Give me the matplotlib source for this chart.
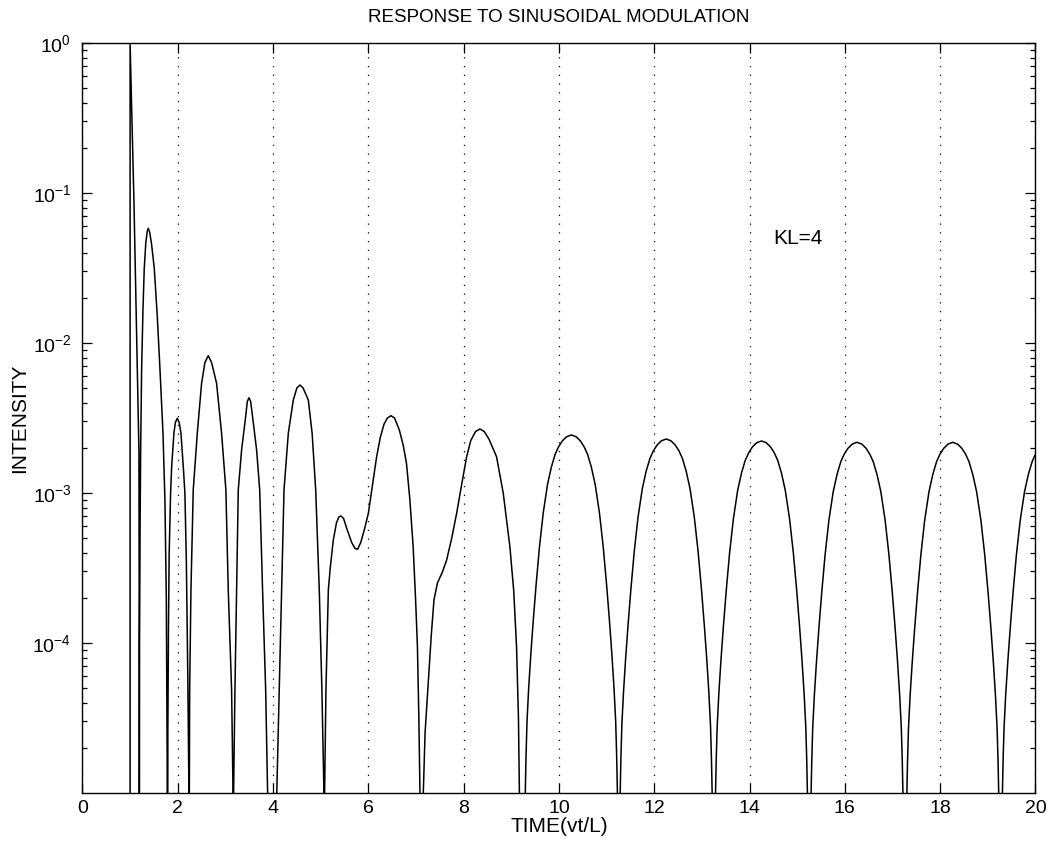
import numpy as np
import matplotlib
matplotlib.use("Agg")
import matplotlib.pyplot as plt
from matplotlib.ticker import LogLocator, FixedLocator, NullFormatter

plt.rcParams['font.family'] = ['Liberation Sans', 'DejaVu Sans']
plt.rcParams['mathtext.fontset'] = 'custom'
plt.rcParams['mathtext.rm'] = 'Liberation Sans'
plt.rcParams['mathtext.it'] = 'Liberation Sans:italic'
plt.rcParams['mathtext.bf'] = 'Liberation Sans:bold'

TITLE = "RESPONSE TO SINUSOIDAL MODULATION"
XLABEL = "TIME(vt/L)"
YLABEL = "INTENSITY"
NOTE = "KL=4"

# Curve: time and log10(intensity), lobe by lobe.
# -8 marks the zeros of the response (below the plotted range).
lobe0_t = [1.000, 1.000, 1.040, 1.081, 1.115, 1.150, 1.175, 1.186, 1.190, 1.192]
lobe0_l = [-8, -0.009, -0.53, -1.06, -1.60, -2.17, -2.55, -2.73, -3.6, -8]

lobe1_t = [1.192, 1.198, 1.21, 1.221, 1.242, 1.27, 1.297, 1.33, 1.36, 1.381, 1.41,
           1.45, 1.507, 1.57, 1.626, 1.69, 1.731, 1.76, 1.778, 1.785]
lobe1_l = [-8, -4.0, -3.2, -2.725, -2.169, -1.78, -1.502, -1.33, -1.255, -1.236, -1.26,
           -1.34, -1.502, -1.82, -2.17, -2.6, -3.05, -3.7, -4.8, -8]

lobe2_t = [1.785, 1.792, 1.805, 1.82, 1.85, 1.872, 1.92, 1.95, 1.99, 2.03, 2.067,
           2.116, 2.15, 2.18, 2.21, 2.235, 2.24]
lobe2_l = [-8, -4.6, -3.9, -3.4, -3.0, -2.825, -2.60, -2.53, -2.502, -2.53, -2.60,
           -2.825, -3.0, -3.45, -4.2, -5.0, -8]

lobe3_t = [2.24, 2.243, 2.25, 2.277, 2.325, 2.41, 2.50, 2.57, 2.64, 2.71, 2.815,
           2.92, 3.01, 3.06, 3.13, 3.16, 3.168]
lobe3_l = [-8, -5.0, -4.313, -3.647, -2.98, -2.602, -2.269, -2.13, -2.085, -2.13, -2.269,
           -2.602, -2.98, -3.647, -4.313, -5.0, -8]

lobe4_t = [3.168, 3.172, 3.20, 3.235, 3.27, 3.34, 3.425, 3.46, 3.494, 3.53, 3.57,
           3.655, 3.72, 3.78, 3.845, 3.886, 3.89, 4.07]
lobe4_l = [-8, -5.0, -4.313, -3.647, -2.98, -2.713, -2.491, -2.39, -2.365, -2.39, -2.491,
           -2.713, -2.98, -3.647, -4.313, -5.0, -8, -8]

lobe5_t = [4.07, 4.078, 4.13, 4.18, 4.23, 4.32, 4.425, 4.50, 4.565, 4.63, 4.74,
           4.82, 4.895, 4.97, 5.025, 5.068, 5.075]
lobe5_l = [-8, -5.0, -4.313, -3.647, -2.98, -2.602, -2.38, -2.30, -2.28, -2.30, -2.38,
           -2.602, -2.98, -3.647, -4.313, -5.0, -8]

lobe6_t = [5.075, 5.082, 5.11, 5.16, 5.20, 5.265, 5.33, 5.38, 5.425, 5.48, 5.55, 5.65,
           5.72, 5.775, 5.84, 5.92, 6.0, 6.08, 6.174, 6.25, 6.33, 6.40, 6.474, 6.55,
           6.65, 6.73, 6.80, 6.87, 6.94, 6.99, 7.03, 7.06, 7.083, 7.12]
lobe6_l = [-8, -5.0, -4.313, -3.647, -3.50, -3.313, -3.20, -3.16, -3.153, -3.17, -3.24, -3.33,
           -3.37, -3.375, -3.33, -3.24, -3.135, -2.96, -2.758, -2.63, -2.54, -2.50, -2.485, -2.50,
           -2.58, -2.68, -2.802, -3.04, -3.358, -3.70, -4.025, -4.5, -5.0, -8]

lobe7_t = [7.12, 7.153, 7.19, 7.26, 7.32, 7.377, 7.45, 7.55, 7.643, 7.75, 7.853, 7.96,
           8.063, 8.15, 8.25, 8.342, 8.43, 8.53, 8.69, 8.83, 8.97, 9.05, 9.11, 9.15,
           9.17, 9.235]
lobe7_l = [-8, -5.0, -4.6, -4.247, -3.95, -3.713, -3.60, -3.53, -3.447, -3.30, -3.135, -2.94,
           -2.758, -2.65, -2.59, -2.573, -2.59, -2.64, -2.758, -3.00, -3.358, -3.65, -4.025, -4.5,
           -5.0, -8]

lobe8_t = [9.235, 9.295, 9.31, 9.33, 9.365, 9.41, 9.46, 9.52, 9.59, 9.67, 9.76, 9.84,
           9.92, 9.99, 10.07, 10.16, 10.26, 10.36, 10.45, 10.53, 10.60, 10.68, 10.76,
           10.85, 10.93, 11.0, 11.06, 11.11, 11.155, 11.19, 11.21, 11.225, 11.262]
lobe8_l = [-8, -4.973, -4.742, -4.52, -4.298, -4.073, -3.853, -3.613, -3.363, -3.133, -2.943,
           -2.828, -2.742, -2.693, -2.653, -2.625, -2.613, -2.625, -2.653, -2.693, -2.742,
           -2.828, -2.943, -3.133, -3.363, -3.613, -3.853, -4.073, -4.298, -4.52, -4.742,
           -4.973, -8]

lobe9_t = [11.262, 11.285, 11.30, 11.32, 11.355, 11.40, 11.45, 11.51, 11.58, 11.66, 11.75,
           11.83, 11.91, 11.98, 12.06, 12.15, 12.25, 12.35, 12.44, 12.52, 12.59, 12.67,
           12.75, 12.84, 12.92, 12.99, 13.05, 13.10, 13.145, 13.18, 13.20, 13.215, 13.262]
lobe9_l = [-8, -5.0, -4.769, -4.547, -4.325, -4.10, -3.88, -3.64, -3.39, -3.16, -2.97,
           -2.855, -2.769, -2.72, -2.68, -2.652, -2.64, -2.652, -2.68, -2.72, -2.769,
           -2.855, -2.97, -3.16, -3.39, -3.64, -3.88, -4.10, -4.325, -4.547, -4.769,
           -5.0, -8]

lobe10_t = [13.262, 13.285, 13.30, 13.32, 13.355, 13.40, 13.45, 13.51, 13.58, 13.66, 13.75,
            13.83, 13.91, 13.98, 14.06, 14.15, 14.25, 14.35, 14.44, 14.52, 14.59, 14.67,
            14.75, 14.84, 14.92, 14.99, 15.05, 15.10, 15.145, 15.18, 15.20, 15.215, 15.265]
lobe10_l = [-8, -5.013, -4.782, -4.56, -4.338, -4.113, -3.893, -3.653, -3.403, -3.173, -2.983,
            -2.868, -2.782, -2.733, -2.693, -2.665, -2.653, -2.665, -2.693, -2.733, -2.782,
            -2.868, -2.983, -3.173, -3.403, -3.653, -3.893, -4.113, -4.338, -4.56, -4.782,
            -5.013, -8]

lobe11_t = [15.265, 15.29, 15.305, 15.325, 15.36, 15.405, 15.455, 15.515, 15.585, 15.665,
            15.755, 15.835, 15.915, 15.985, 16.065, 16.155, 16.255, 16.355, 16.445, 16.525,
            16.595, 16.675, 16.755, 16.845, 16.925, 16.995, 17.055, 17.105, 17.15, 17.185,
            17.205, 17.22, 17.27]
lobe11_l = [-8, -5.022, -4.791, -4.569, -4.347, -4.122, -3.902, -3.662, -3.412, -3.182,
            -2.992, -2.877, -2.791, -2.742, -2.702, -2.674, -2.662, -2.674, -2.702, -2.742,
            -2.791, -2.877, -2.992, -3.182, -3.412, -3.662, -3.902, -4.122, -4.347, -4.569,
            -4.791, -5.022, -8]

lobe12_t = [17.27, 17.30, 17.315, 17.335, 17.37, 17.415, 17.465, 17.525, 17.595, 17.675,
            17.765, 17.845, 17.925, 17.995, 18.075, 18.165, 18.265, 18.365, 18.455, 18.535,
            18.605, 18.685, 18.765, 18.855, 18.935, 19.005, 19.065, 19.115, 19.16, 19.195,
            19.215, 19.23, 19.275]
lobe12_l = [-8, -5.022, -4.791, -4.569, -4.347, -4.122, -3.902, -3.662, -3.412, -3.182,
            -2.992, -2.877, -2.791, -2.742, -2.702, -2.674, -2.662, -2.674, -2.702, -2.742,
            -2.791, -2.877, -2.992, -3.182, -3.412, -3.662, -3.902, -4.122, -4.347, -4.569,
            -4.791, -5.022, -8]

lobe13_t = [19.275, 19.305, 19.32, 19.34, 19.375, 19.42, 19.47, 19.53, 19.60, 19.68,
            19.77, 19.85, 19.93, 20.0]
lobe13_l = [-8, -5.022, -4.791, -4.569, -4.347, -4.122, -3.902, -3.662, -3.412, -3.182,
            -2.992, -2.877, -2.791, -2.742]

LOBES_T = [lobe0_t, lobe1_t, lobe2_t, lobe3_t, lobe4_t, lobe5_t, lobe6_t, lobe7_t,
           lobe8_t, lobe9_t, lobe10_t, lobe11_t, lobe12_t, lobe13_t]
LOBES_L = [lobe0_l, lobe1_l, lobe2_l, lobe3_l, lobe4_l, lobe5_l, lobe6_l, lobe7_l,
           lobe8_l, lobe9_l, lobe10_l, lobe11_l, lobe12_l, lobe13_l]

X_TICKS = [0, 2, 4, 6, 8, 10, 12, 14, 16, 18, 20]
Y_TICKS = [1e-4, 1e-3, 1e-2, 1e-1, 1e0]

t = np.concatenate([np.asarray(a, float) for a in LOBES_T])
intensity = 10.0 ** np.concatenate([np.asarray(a, float) for a in LOBES_L])

fig = plt.figure(figsize=(10.49, 8.50), dpi=100)
ax = fig.add_axes([0.0786, 0.0671, 0.9085, 0.8823])

ax.semilogy(t, intensity, color='black', linewidth=1.1, solid_joinstyle='round')

ax.set_xlim(0, 20)
ax.set_ylim(1e-5, 1e0)
ax.xaxis.set_major_locator(FixedLocator(X_TICKS))
ax.yaxis.set_major_locator(FixedLocator(Y_TICKS))
ax.yaxis.set_minor_locator(LogLocator(base=10, subs=np.arange(2, 10)))
ax.yaxis.set_minor_formatter(NullFormatter())

ax.tick_params(which='both', direction='in', top=True, right=True, width=0.9,
               labelsize=14, colors='black')
ax.tick_params(which='major', length=7)
ax.tick_params(axis='x', which='major', pad=5)
ax.tick_params(axis='y', which='major', pad=8)
ax.tick_params(which='minor', length=3.5)
for s in ax.spines.values():
    s.set_linewidth(1.0)
    s.set_color('black')

ax.xaxis.grid(True, which='major', linestyle=(0, (1, 6)), color='black', linewidth=0.9)
ax.yaxis.grid(False)

ax.set_title(TITLE, fontsize=13.5, pad=15)
ax.set_xlabel(XLABEL, fontsize=15, labelpad=0)
ax.set_ylabel(YLABEL, fontsize=15, labelpad=2)
ax.text(14.5, 0.05, NOTE, fontsize=15, ha='left', va='center')

fig.savefig("out.png", dpi=100)
